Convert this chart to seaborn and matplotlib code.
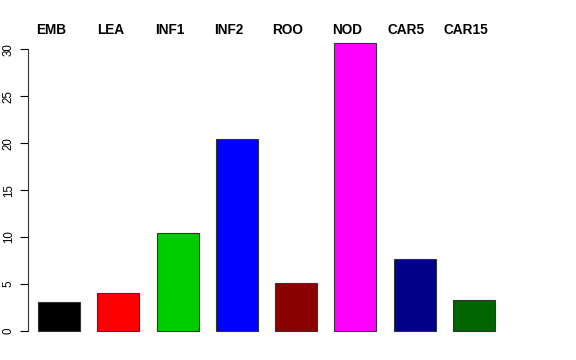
import pandas as pd
import seaborn as sns
import matplotlib.pyplot as plt

# データ
tissues = ['EMB', 'LEA', 'INF1', 'INF2', 'ROO', 'NOD', 'CAR5', 'CAR15']
values = [3.1, 4.0, 10.4, 20.4, 5.1, 30.6, 7.7, 3.3]
colors = ['#000000', '#FF0000', '#00CD00', '#0000FF',
          '#8B0000', '#FF00FF', '#00008B', '#006400']
yticks = [0, 5, 10, 15, 20, 25, 30]

df = pd.DataFrame({'tissue': tissues, 'value': values})

sns.set_style('white')
plt.rcParams['font.family'] = ['Liberation Sans', 'DejaVu Sans']
plt.rcParams['text.color'] = 'black'
plt.rcParams['ytick.color'] = 'black'
plt.rcParams['ytick.labelcolor'] = 'black'

fig = plt.figure(figsize=(5.76, 3.6), dpi=100)
ax = fig.add_axes([0.0486, 0.0486, 0.846, 0.862])

sns.barplot(x='tissue', y='value', hue='tissue', data=df, palette=colors,
            legend=False, width=0.71, edgecolor='#333333', linewidth=0.8,
            saturation=1, ax=ax)

ax.set_xlim(-0.524, 7.70)
ax.set_ylim(-1.22, 31.8)
ax.set_xlabel('')
ax.set_ylabel('')
ax.set_xticks([])
ax.set_yticks(yticks)
ax.set_yticklabels([str(t) for t in yticks], rotation=90, va='center')
ax.tick_params(axis='y', left=True, length=5.5, width=0.8, color='black',
               labelcolor='black', pad=4, labelsize=8.3)

for s in ['top', 'right', 'bottom']:
    ax.spines[s].set_visible(False)
ax.spines['left'].set_bounds(0, 30)
ax.spines['left'].set_color('#333333')
ax.spines['left'].set_linewidth(0.8)

# 上部のラベル(棒の中心より少し左)
for i, t in enumerate(tissues):
    ax.text(i - 0.135, 31.65, t, ha='center', va='baseline', color='black',
            fontsize=9.8, fontweight='bold', clip_on=False)

fig.savefig('out.png', dpi=100)
